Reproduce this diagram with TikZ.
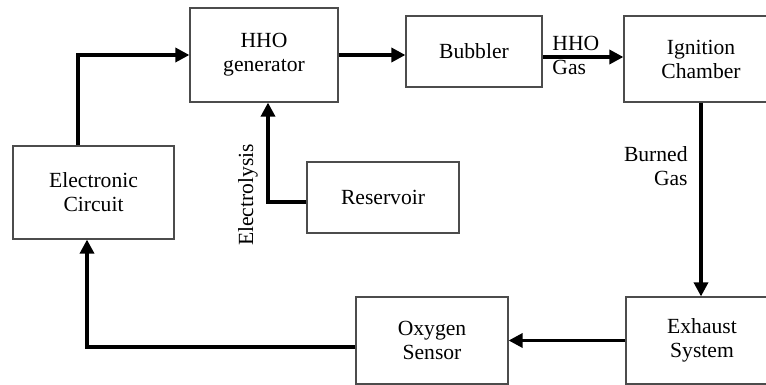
\documentclass[tikz,border=0pt]{standalone}
\usepackage{fontspec}
\setmainfont{Liberation Serif}
\usetikzlibrary{arrows.meta,positioning}
\tikzstyle{every picture}=[x=0.5pt, y=-0.5pt, >={Triangle[length=7pt,width=7pt]},%
	font=\fontsize{10.8}{12}\selectfont]
\tikzstyle{blk}=[draw=black!70, line width=0.6pt, align=center, inner sep=0pt]
\tikzstyle{flow}=[->, line width=1.65pt]
\tikzstyle{lbl}=[inner sep=0pt]

\begin{document}
\begin{tikzpicture}
	\useasboundingbox (0,0) rectangle (766,385);
	\node[blk, minimum width=74pt, minimum height=47pt] (HHO) at (264,55) {HHO\\generator};
	\node[blk, minimum width=68pt, minimum height=35.5pt] (Bub) at (474,51.5) {Bubbler};
	\node[blk, minimum width=77pt, minimum height=43pt] (Ign) at (701,59) {Ignition\\Chamber};
	\node[blk, minimum width=80.5pt, minimum height=46.5pt] (EC) at (93.5,192.5) {Electronic\\Circuit};
	\node[blk, minimum width=76pt, minimum height=35.5pt] (Res) at (383,197.5) {Reservoir};
	\node[blk, minimum width=76pt, minimum height=43.5pt] (Oxy) at (432,340.5) {Oxygen\\Sensor};
	\node[blk, minimum width=76pt, minimum height=43.5pt] (Exh) at (702,340.5) {Exhaust\\System};
	% labels
	\node[lbl, align=left, anchor=west] (hg) at (552,55) {HHO\\Gas};
	\node[lbl, align=right, anchor=east] (bg) at (688,166) {Burned\\Gas};
	\node[lbl, rotate=90] (el) at (248,195) {Electrolysis};
	% connections
	\draw[flow] ([xshift=-7.75pt]EC.north) |- (HHO.west);
	\draw[flow] (HHO.east) -- (HHO.east -| Bub.west);
	\draw[flow] ([yshift=-2.75pt]Bub.east) -- ([yshift=-2.75pt]Bub.east -| Ign.west);
	\draw[flow] (Ign.south) -- (Ign.south |- Exh.north);
	\draw[flow] (Exh.west) -- (Oxy.east);
	\draw[flow] ([yshift=-3.25pt]Oxy.west) -| ([xshift=-3.25pt]EC.south);
	\draw[flow] ([yshift=-2.25pt]Res.west) -| ([xshift=2pt]HHO.south);
\end{tikzpicture}
\end{document}
